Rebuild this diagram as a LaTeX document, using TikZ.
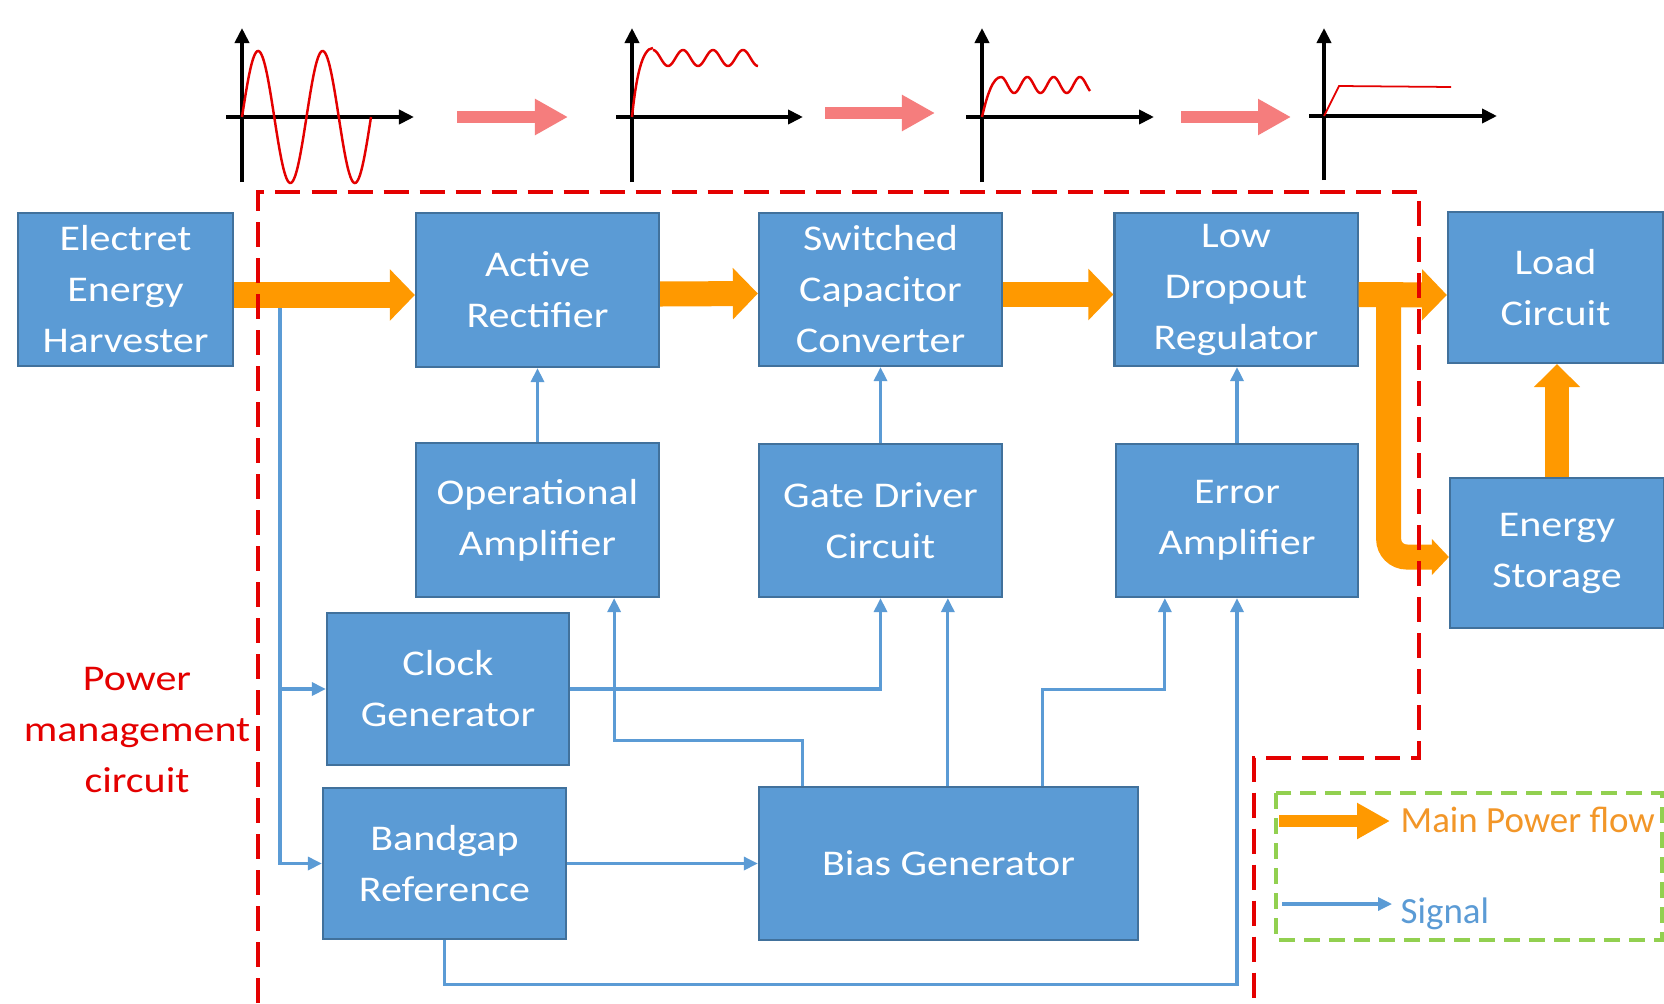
\documentclass[tikz,border=0pt]{standalone}
\usepackage{fontspec}
\setmainfont{Carlito}[FakeStretch=1.16]
\newfontfamily\legfamily{Carlito}
\usetikzlibrary{arrows.meta,calc}
\definecolor{boxfill}{RGB}{91,155,213}
\definecolor{boxline}{RGB}{65,113,156}
\definecolor{sigblue}{RGB}{91,155,213}
\definecolor{powor}{RGB}{255,153,0}
\definecolor{legor}{RGB}{242,150,40}
\definecolor{wavepink}{RGB}{245,125,125}
\definecolor{pmred}{RGB}{228,0,0}
\definecolor{leggreen}{RGB}{146,208,80}
\newcommand{\boxfont}{\fontsize{10.3}{14.5}\selectfont}
\newcommand{\legfont}{\legfamily\fontsize{10.5}{14.5}\selectfont}
\begin{document}
\begin{tikzpicture}[x=0.01cm, y=-0.01cm,
  blk/.style={draw=boxline, line width=0.6pt, fill=boxfill, text=white, align=center, inner sep=0pt, font=\boxfont},
  sig/.style={sigblue, line width=0.9pt, -{Triangle[length=0.14cm,width=0.13cm]}},
  pw/.style={powor, line width=0.25cm, -{Triangle[length=0.25cm,width=0.5cm]}},
  axisline/.style={black, line width=1.1pt, -{Triangle[length=0.15cm,width=0.14cm]}},
  wave/.style={pmred, line width=0.7pt},
  fatpink/.style={wavepink, line width=0.115cm, -{Triangle[length=0.33cm,width=0.34cm]}},
  pmdash/.style={pmred, line width=1.1pt, dash pattern=on 0.25cm off 0.11cm},
  legdash/.style={leggreen, line width=1.0pt, dash pattern=on 0.16cm off 0.09cm}
]
\useasboundingbox (0,0) rectangle (1664,1003);
\fill[white] (0,0) rectangle (1664,1003);

% ---- waveforms ----
\coordinate (g1o) at (242,117);
\coordinate (g2o) at (632,117);
\coordinate (g3o) at (982,117);
\coordinate (g4o) at (1324,116);
\draw[axisline] (242,182) -- (242,28);
\draw[axisline] (226,117) -- (414,117);
\draw[wave] plot[domain=0:129, samples=120, smooth] ({242+\x},{117-66*sin(\x/64.5*360)});

\draw[axisline] (632,182) -- (632,28);
\draw[axisline] (616,117) -- (803,117);
\draw[wave] (g2o) .. controls (636,78) and (642,48) .. (653,48);
\draw[wave] plot[domain=0:105, samples=100, smooth] ({653+\x},{58-8*cos(\x/30*360)});

\draw[axisline] (982,182) -- (982,28);
\draw[axisline] (966,117) -- (1154,117);
\draw[wave] (g3o) .. controls (987,95) and (993,77) .. (1001,77);
\draw[wave] plot[domain=0:89, samples=100, smooth] ({1001+\x},{85-8*cos(\x/26.3*360)});

\draw[axisline] (1324,180) -- (1324,28);
\draw[axisline] (1309,116) -- (1497,116);
\draw[pmred, line width=0.5pt] (g4o) -- (1339,86) -- (1451,87);

\coordinate (pa1) at (457,117); \coordinate (pb1) at (568,117);
\coordinate (pa2) at (825,113); \coordinate (pb2) at (935,113);
\coordinate (pa3) at (1181,117); \coordinate (pb3) at (1291,117);
\draw[fatpink] (pa1) -- (pb1);
\draw[fatpink] (pa2) -- (pb2);
\draw[fatpink] (pa3) -- (pb3);

% ---- blocks ----
\node[blk, minimum width=2.15cm, minimum height=1.53cm] (eeh) at (125.5,289.5) {Electret\\Energy\\Harvester};
\node[blk, minimum width=2.43cm, minimum height=1.54cm] (ar) at (537.5,290) {Active\\Rectifier};
\node[blk, minimum width=2.43cm, minimum height=1.53cm] (scc) at (880.5,289.5) {Switched\\Capacitor\\Converter};
\node[blk, minimum width=2.43cm, minimum height=1.53cm] (ldo) at (1236,289.5) {Low\\Dropout\\Regulator};
\node[blk, minimum width=2.15cm, minimum height=1.51cm] (load) at (1555.5,287.5) {Load\\Circuit};
\node[blk, minimum width=2.43cm, minimum height=1.54cm] (oa) at (537.5,520) {Operational\\Amplifier};
\node[blk, minimum width=2.43cm, minimum height=1.53cm] (gd) at (880.5,520.5) {Gate Driver\\Circuit};
\node[blk, minimum width=2.42cm, minimum height=1.53cm] (ea) at (1237,520.5) {Error\\Amplifier};
\node[blk, minimum width=2.14cm, minimum height=1.50cm] (es) at (1557,553) {Energy\\Storage};
\node[blk, minimum width=2.42cm, minimum height=1.52cm] (clk) at (448,689) {Clock\\Generator};
\node[blk, minimum width=2.43cm, minimum height=1.51cm] (bg) at (444.5,863.5) {Bandgap\\Reference};
\node[blk, minimum width=3.79cm, minimum height=1.53cm] (bias) at (948.5,863.5) {Bias Generator};

% ---- signal connectors ----
\coordinate (tap) at (280,295);
\draw[sig] (tap) |- (clk.west);
\draw[sig] (tap) |- (bg.west);
\draw[sig] (oa.north) -- (ar.south);
\draw[sig] (gd.north) -- (scc.south);
\draw[sig] (ea.north) -- (ea.north |- ldo.south);
\draw[sig] (clk.east) -| (gd.south);
\draw[sig] ($(bias.north west)+(45,0)$) -- ++(0,-45) -| ($(oa.south east)+(-46,0)$);
\draw[sig] ($(bias.north west)+(190,0)$) coordinate (b2) -- (b2 |- gd.south);
\draw[sig] ($(bias.north west)+(285,0)$) -- ++(0,-96) -| ($(ea.south west)+(50,0)$);
\draw[sig] (bg.east) -- (bias.west);
\draw[sig] (bg.south) -- ++(0,44) -| (ea.south);

% ---- power flow ----
\draw[pw] ($(eeh.east)+(0,5.5)$) -- ($(ar.west)+(0,5)$);
\draw[pw] ($(ar.east)+(0,4)$) -- ($(scc.west)+(0,4)$);
\draw[pw] ($(scc.east)+(0,5)$) -- ($(ldo.west)+(0,5)$);
\draw[pw] ($(ldo.east)+(0,5)$) -- ($(load.west)+(0,7.5)$);
\draw[pw, rounded corners=0.18cm, -{Triangle[length=0.17cm,width=0.35cm]}] ($(ldo.east)+(30,5)$) |- ($(es.west)+(0,4)$);
\draw[pw, line width=0.24cm, -{Triangle[length=0.23cm,width=0.45cm]}] (es.north) -- (es.north |- load.south);

% ---- power management region ----
\draw[pmdash] (258,1003) -- (258,192) -- (1419,192) -- (1419,758) -- (1254,758) -- (1254,1003);
\node[text=pmred, align=center, font=\boxfont, inner sep=0pt] (pmlabel) at (137,730) {Power\\management\\circuit};

% ---- legend ----
\draw[legdash] (1276,793) rectangle (1662,940);
\coordinate (lo1) at (1279,821); \coordinate (lo2) at (1390,821);
\coordinate (ls1) at (1282,904); \coordinate (ls2) at (1392,904);
\draw[powor, line width=0.12cm, -{Triangle[length=0.33cm,width=0.34cm]}] (lo1) -- (lo2);
\draw[sig] (ls1) -- (ls2);
\node[anchor=base west, text=legor, font=\legfont, inner sep=0pt] (lt1) at (1400,832) {Main Power flow};
\node[anchor=base west, text=sigblue, font=\legfont, inner sep=0pt] (lt2) at (1400,923) {Signal};
\end{tikzpicture}
\end{document}
